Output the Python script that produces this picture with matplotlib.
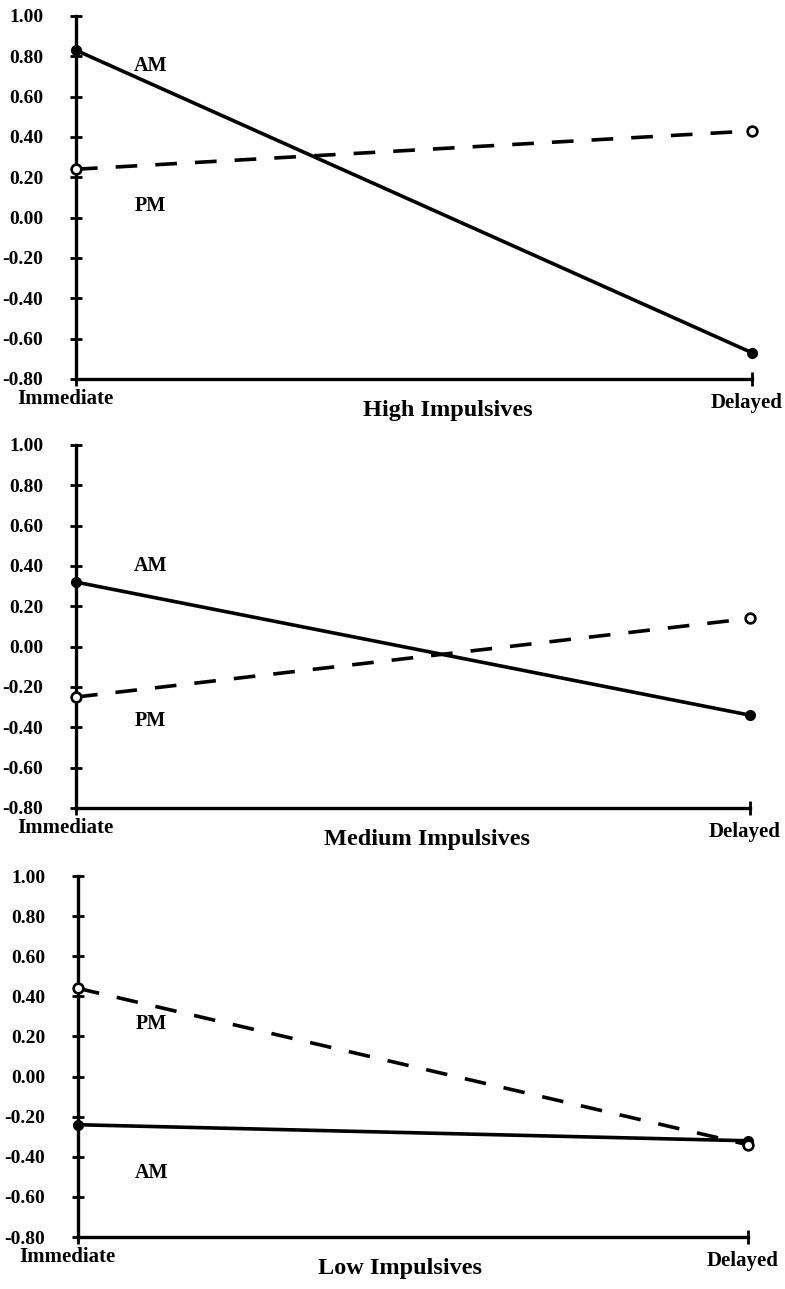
import matplotlib
matplotlib.use("Agg")
import matplotlib.pyplot as plt
import matplotlib.transforms as mtransforms

plt.rcParams['font.family'] = ['Liberation Serif', 'DejaVu Serif']
plt.rcParams['font.weight'] = 'bold'

conditions = ["Immediate", "Delayed"]
yticks = [1.00, 0.80, 0.60, 0.40, 0.20, 0.00, -0.20, -0.40, -0.60, -0.80]
ytick_labels = ["1.00", "0.80", "0.60", "0.40", "0.20", "0.00", "-0.20", "-0.40", "-0.60", "-0.80"]

panel_titles = ["High Impulsives", "Medium Impulsives", "Low Impulsives"]
am_values = [[0.83, -0.67], [0.32, -0.34], [-0.24, -0.32]]
pm_values = [[0.24, 0.43], [-0.25, 0.14], [0.44, -0.34]]

# label positions (in data y) for AM / PM text
am_label_y = [0.75, 0.40, -0.48]
pm_label_y = [0.06, -0.37, 0.26]

positions = [
    [0.0968, 0.7060, 0.8612, 0.2816],
    [0.0968, 0.3732, 0.8587, 0.2816],
    [0.0994, 0.0403, 0.8535, 0.2801],
]
title_x = [0.55, 0.52, 0.48]

fig = plt.figure(figsize=(7.85, 12.89), dpi=100)

for i in range(3):
    ax = fig.add_axes(positions[i])
    x = [0, 1]
    ax.plot(x, am_values[i], color='black', lw=2.6, solid_capstyle='butt',
            marker='o', markersize=7, markerfacecolor='black',
            markeredgecolor='black', clip_on=False, zorder=3)
    ax.plot(x, pm_values[i], color='black', lw=2.6, linestyle=(0, (6.0, 5.0)),
            marker='o', markersize=7, markerfacecolor='white',
            markeredgecolor='black', markeredgewidth=1.9, clip_on=False, zorder=4)
    ax.set_xlim(0, 1)
    ax.set_ylim(-0.80, 1.00)
    for s in ['top', 'right']:
        ax.spines[s].set_visible(False)
    for s in ['left', 'bottom']:
        ax.spines[s].set_linewidth(2.4)
    ax.set_yticks(yticks)
    ax.set_yticklabels(ytick_labels, fontsize=14, fontweight='bold')
    ax.tick_params(axis='y', direction='inout', length=9, width=2, pad=19)
    for lab in ax.get_yticklabels():
        lab.set_horizontalalignment('right')
    ax.set_xticks([0, 1])
    ax.set_xticklabels(["", ""])
    ax.tick_params(axis='x', direction='inout', length=10, width=2)
    ax.patch.set_alpha(0)

    trans = mtransforms.blended_transform_factory(ax.transData, ax.transAxes)
    ax.text(-0.016, -0.055, conditions[0], transform=trans, ha='center', va='center',
            fontsize=15, fontweight='bold')
    ax.text(0.992, -0.065, conditions[1], transform=trans, ha='center', va='center',
            fontsize=15, fontweight='bold')
    ax.text(title_x[i], -0.088, panel_titles[i], transform=ax.transAxes, ha='center',
            va='center', fontsize=17.5, fontweight='bold')
    ax.text(0.11, am_label_y[i], "AM", ha='center', va='center', fontsize=14.5,
            fontweight='bold')
    ax.text(0.11, pm_label_y[i], "PM", ha='center', va='center', fontsize=14.5,
            fontweight='bold')

fig.savefig("out.png", dpi=100)
